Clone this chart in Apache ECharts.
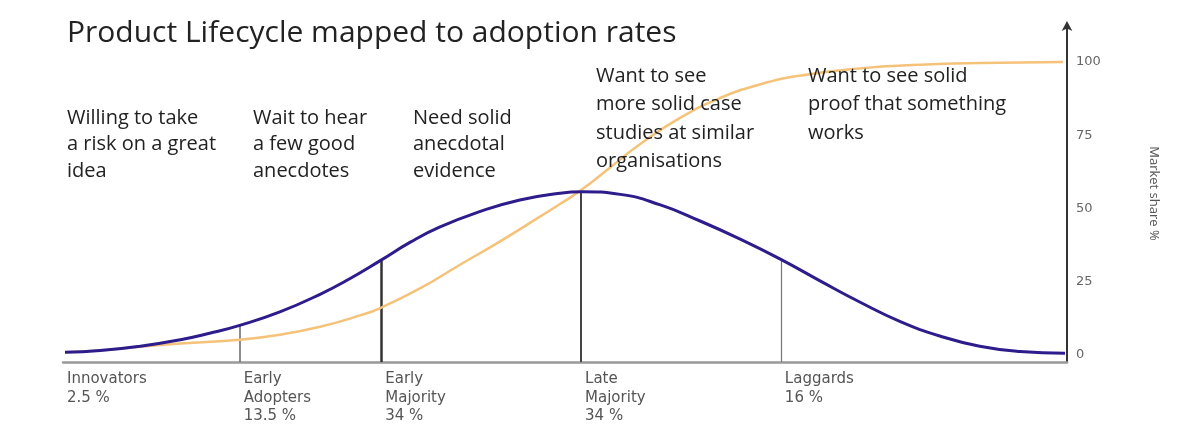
<!DOCTYPE html>
<html>
<head>
    <meta charset="UTF-8">
    <title>Product Lifecycle</title>
    <style>
        html, body { margin: 0; padding: 0; background: #fff; }
        #main { width: 1200px; height: 428px; }
    </style>
    <script src="https://cdn.jsdelivr.net/npm/echarts@6/dist/echarts.min.js"></script>
</head>
<body>
    <div id="main"></div>
    <script type="text/javascript">
        // adoption bell curve, x = share of timeline (0-100), y = market share %
        var bellX = [0.2, 3.7, 7.7, 11.7, 14.6, 17.6, 21.6, 25.6, 28.6, 31.6, 34.6, 37.5, 41.5, 45.5, 49.5, 51.7,
            55.5, 59.5, 63.4, 67.4, 71.4, 75.4, 79.4, 83.4, 87.4, 91.3, 95.3, 99.8];
        var bellY = [0.9, 1.5, 3.0, 5.2, 7.4, 10.1, 14.7, 20.7, 26.1, 32.2, 38.5, 43.6, 48.9, 52.9, 55.2, 55.7,
            54.8, 51.2, 45.8, 39.6, 32.8, 25.3, 18.0, 11.4, 6.4, 3.0, 1.2, 0.6];
        // cumulative adoption (S-curve)
        var cumX = [0.2, 3.7, 7.7, 11.7, 17.6, 21.6, 25.6, 29.6, 31.6, 35.6, 39.5, 43.5, 47.5, 49.5, 51.5,
            54.5, 57.5, 61.5, 65.4, 69.4, 73.4, 79.4, 85.4, 91.3, 99.6];
        var cumY = [0.9, 1.5, 2.8, 3.9, 5.2, 6.9, 9.6, 13.5, 16.0, 22.8, 30.7, 38.7, 47.2, 51.5, 56.0,
            64.0, 72.0, 81.0, 87.6, 92.3, 95.3, 97.8, 99.0, 99.6, 100];
        // segment boundaries and heights of the divider lines
        var dividerX = [17.6, 31.7, 51.6, 71.5];
        var dividerTop = [10.1, 32.5, 55.7, 33];
        var groups = ['Innovators\n2.5 %', 'Early\nAdopters\n13.5 %', 'Early\nMajority\n34 %', 'Late\nMajority\n34 %', 'Laggards\n16 %'];
        var notes = [
            'Willing to take\na risk on a great\nidea',
            'Wait to hear\na few good\nanecdotes',
            'Need solid\nanecdotal\nevidence',
            'Want to see\nmore solid case\nstudies at similar\norganisations',
            'Want to see solid\nproof that something\nworks'
        ];
        var yTicks = [0, 25, 50, 75, 100];

        var yMin = -2.4, yMax = 112.6;
        var dividerWidth = [1.5, 2.5, 2, 1.2];
        var dividerColor = ['#666', '#333', '#444', '#777'];
        var noteLeft = [67, 253, 413, 596, 808];
        var noteTop = [105, 105, 105, 62, 62];
        var noteLH = [26.5, 26.5, 26.5, 28.5, 28.5];

        function zip(a, b) {
            return a.map(function (v, i) { return [v, b[i]]; });
        }

        var chart = echarts.init(document.getElementById('main'));
        var labelStarts = [0].concat(dividerX);

        var option = {
            animation: false,
            backgroundColor: '#fff',
            title: {
                text: 'Product Lifecycle mapped to adoption rates',
                left: 62,
                top: 13,
                textStyle: {
                    fontFamily: 'Open Sans',
                    fontSize: 30,
                    fontWeight: 'normal',
                    color: '#222'
                }
            },
            grid: { left: 63, right: 133, top: 25, bottom: 66 },
            xAxis: {
                type: 'value',
                min: 0,
                max: 100,
                splitLine: { show: false },
                axisTick: { show: false },
                axisLine: { onZero: false, lineStyle: { color: '#999', width: 2.5 } },
                axisLabel: {
                    customValues: labelStarts,
                    align: 'left',
                    margin: 8,
                    padding: [0, 0, 0, 4],
                    fontFamily: 'DejaVu Sans',
                    fontSize: 15,
                    lineHeight: 18.5,
                    color: '#555',
                    formatter: function (v, i) {
                        var k = labelStarts.indexOf(v);
                        return groups[k >= 0 ? k : i];
                    }
                }
            },
            yAxis: {
                type: 'value',
                position: 'right',
                min: yMin,
                max: yMax,
                name: 'Market share %',
                nameLocation: 'middle',
                nameRotate: -90,
                nameGap: 80,
                nameTextStyle: { fontFamily: 'Open Sans', fontSize: 13, color: '#555' },
                splitLine: { show: false },
                axisTick: { show: false },
                axisLine: {
                    show: true,
                    onZero: false,
                    lineStyle: { color: '#333', width: 2 },
                    symbol: ['none', 'arrow'],
                    symbolSize: [8, 10],
                    symbolOffset: [0, 4]
                },
                axisLabel: {
                    customValues: yTicks,
                    margin: 9,
                    fontFamily: 'DejaVu Sans',
                    fontSize: 13,
                    color: '#666'
                }
            },
            series: [
                {
                    type: 'lines',
                    coordinateSystem: 'cartesian2d',
                    silent: true,
                    z: 1,
                    data: dividerX.map(function (x, i) {
                        return {
                            coords: [[x, yMin], [x, dividerTop[i]]],
                            lineStyle: { width: dividerWidth[i], color: dividerColor[i], opacity: 1 }
                        };
                    })
                },
                {
                    name: 'Adoption',
                    type: 'line',
                    smooth: 0.5,
                    showSymbol: false,
                    z: 2,
                    lineStyle: { color: '#f5c27a', width: 2.5 },
                    data: zip(cumX, cumY)
                },
                {
                    name: 'Lifecycle',
                    type: 'line',
                    smooth: 0.5,
                    showSymbol: false,
                    z: 3,
                    lineStyle: { color: '#2d1c8c', width: 3 },
                    data: zip(bellX, bellY)
                }
            ],
            graphic: notes.map(function (t, i) {
                return {
                    type: 'text',
                    left: noteLeft[i],
                    top: noteTop[i],
                    z: 10,
                    style: {
                        text: t,
                        fontFamily: 'Open Sans',
                        fontSize: 20,
                        lineHeight: noteLH[i],
                        fill: '#222'
                    }
                };
            })
        };

        chart.setOption(option);
    </script>
</body>
</html>
